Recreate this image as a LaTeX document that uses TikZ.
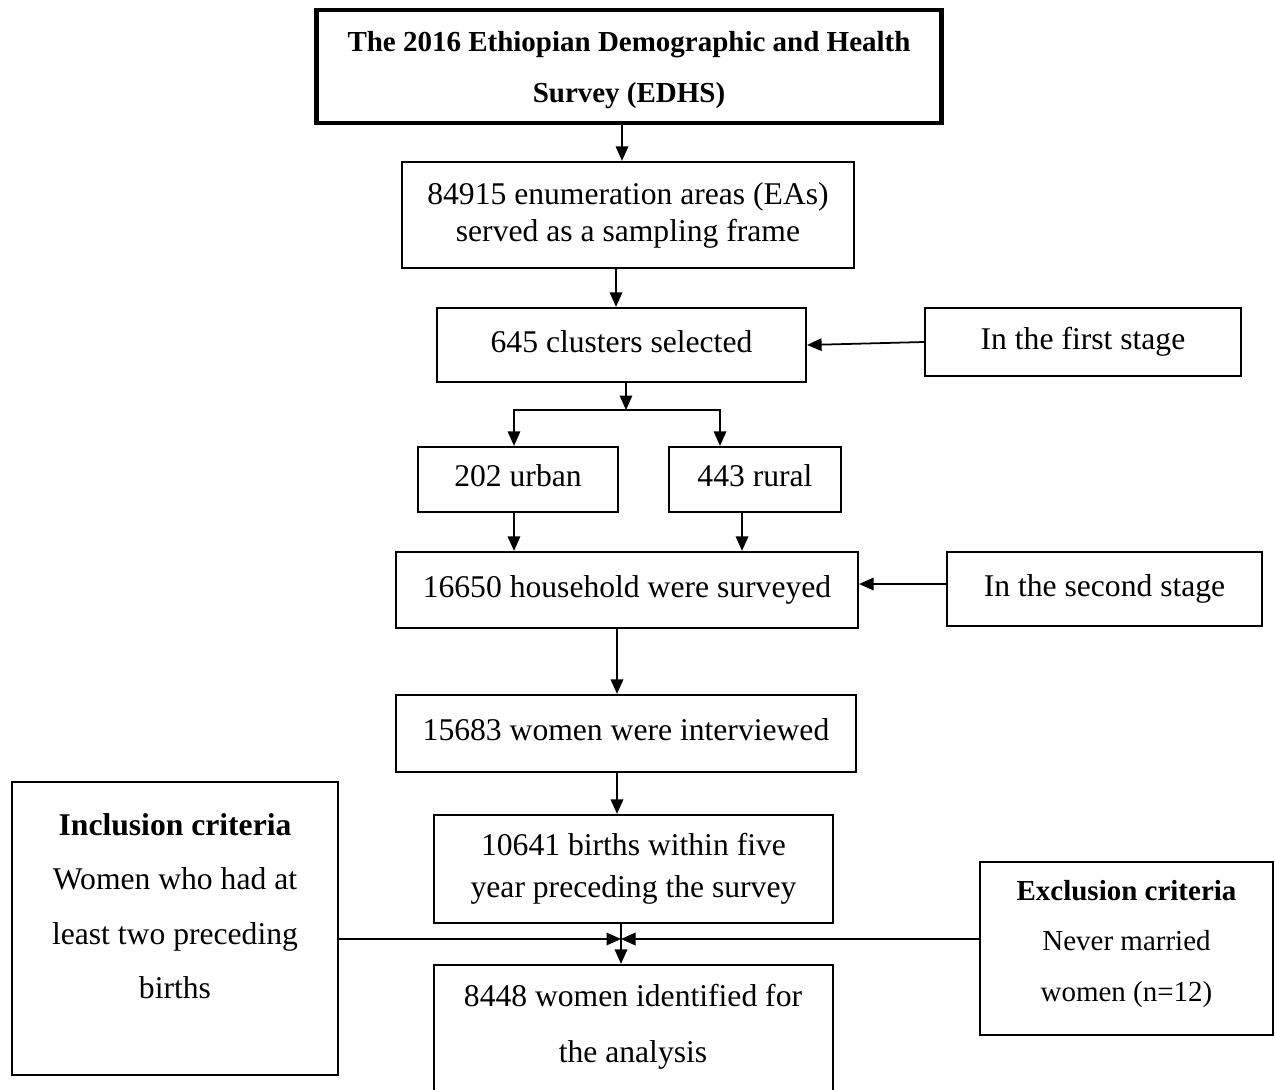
\documentclass[tikz,border=0pt]{standalone}
\usepackage{fontspec}
\setmainfont{Liberation Serif}
\usetikzlibrary{arrows.meta}

\tikzset{
  box/.style={draw, line width=1.3pt, align=center, inner sep=0pt, font=\fontsize{18}{21}\selectfont},
  oneline/.style={text height=0.45cm, text depth=0.17cm},
  txt/.style={align=center, inner sep=0pt},
  arr/.style={-{Triangle[length=0.29cm,width=0.25cm]}, line width=1pt}
}

\begin{document}
\begin{tikzpicture}[x=0.02cm,y=-0.02cm]
\path[use as bounding box] (0,0) rectangle (1275,1089);
\clip (0,0) rectangle (1275,1089);

% main column
\node[box, line width=2.8pt, minimum width=12.52cm, minimum height=2.26cm] (title) at (629,66.5) {};
\node[txt, font=\fontsize{16.5}{29}\selectfont\bfseries] (titletxt) at (629,70.5)
  {The 2016 Ethiopian Demographic and Health\\Survey (EDHS)};
\node[box, minimum width=9.04cm, minimum height=2.12cm, font=\fontsize{18}{21}\selectfont] (enum) at (628,215)
  {84915 enumeration areas (EAs)\\served as a sampling frame};
\node[box, oneline, minimum width=7.38cm, minimum height=1.48cm] (clus) at (621.5,345) {645 clusters selected};
\node[box, oneline, minimum width=6.32cm, minimum height=1.36cm] (first) at (1083,342) {In the first stage};
\node[box, oneline, minimum width=4.0cm, minimum height=1.3cm] (urban) at (518,479.5) {202 urban};
\node[box, oneline, minimum width=3.44cm, minimum height=1.3cm] (rural) at (755,479.5) {443 rural};
\node[box, oneline, minimum width=9.24cm, minimum height=1.52cm] (house) at (627,590) {16650 household were surveyed};
\node[box, oneline, minimum width=6.3cm, minimum height=1.48cm] (second) at (1104.5,589) {In the second stage};
\node[box, oneline, minimum width=9.2cm, minimum height=1.54cm] (women) at (626,733.5) {15683 women were interviewed};
\node[box, minimum width=7.98cm, minimum height=2.16cm, font=\fontsize{18}{24}\selectfont] (births) at (633.5,869)
  {10641 births within five\\year preceding the survey};
\node[box, minimum width=7.98cm, minimum height=3.1cm] (final) at (633.5,1042.5) {};
\node[txt, font=\fontsize{18}{32}\selectfont] (finaltxt) at (633,1027) {8448 women identified for\\the analysis};

% criteria
\node[box, minimum width=6.52cm, minimum height=5.86cm] (incl) at (175,928.5) {};
\node[txt, font=\fontsize{18}{31}\selectfont] (incltxt) at (175,906)
  {\textbf{Inclusion criteria}\\Women who had at\\least two preceding\\births};
\node[box, minimum width=5.86cm, minimum height=3.46cm] (excl) at (1126.5,948.5) {};
\node[txt, font=\fontsize{16.5}{28.5}\selectfont] (excltxt) at (1126.5,944)
  {\textbf{Exclusion criteria}\\Never married\\women (n=12)};

\coordinate (split) at (626,410);
\coordinate (meet) at (621,939);

% arrows
\draw[arr] ([xshift=-0.14cm]title.south) -- ([xshift=-0.14cm]title.south |- enum.north);
\draw[arr] ([xshift=-0.24cm]enum.south) -- ([xshift=-0.24cm]enum.south |- clus.north);
\draw[arr] (first.west) -- (clus.east);
\draw[arr] ([xshift=0.09cm]clus.south) -- (split);
\draw[arr] (split) -| ([xshift=-0.08cm]urban.north);
\draw[arr] (split) -| ([xshift=-0.7cm]rural.north);
\draw[arr] ([xshift=-0.08cm]urban.south) -- ([xshift=-0.08cm]urban.south |- house.north);
\draw[arr] ([xshift=-0.26cm]rural.south) -- ([xshift=-0.26cm]rural.south |- house.north);
\draw[arr] ([yshift=0.1cm]second.west) -- ([yshift=0.1cm]second.west -| house.east);
\draw[arr] ([xshift=-0.2cm]house.south) -- ([xshift=-0.2cm]house.south |- women.north);
\draw[arr] ([xshift=-0.18cm]women.south) -- ([xshift=-0.18cm]women.south |- births.north);
\draw[arr] ([xshift=-0.25cm]births.south) -- ([xshift=-0.25cm]births.south |- final.north);
\draw[arr] (meet -| incl.east) -- (meet);
\draw[arr] (meet -| excl.west) -- (meet);
\end{tikzpicture}
\end{document}
